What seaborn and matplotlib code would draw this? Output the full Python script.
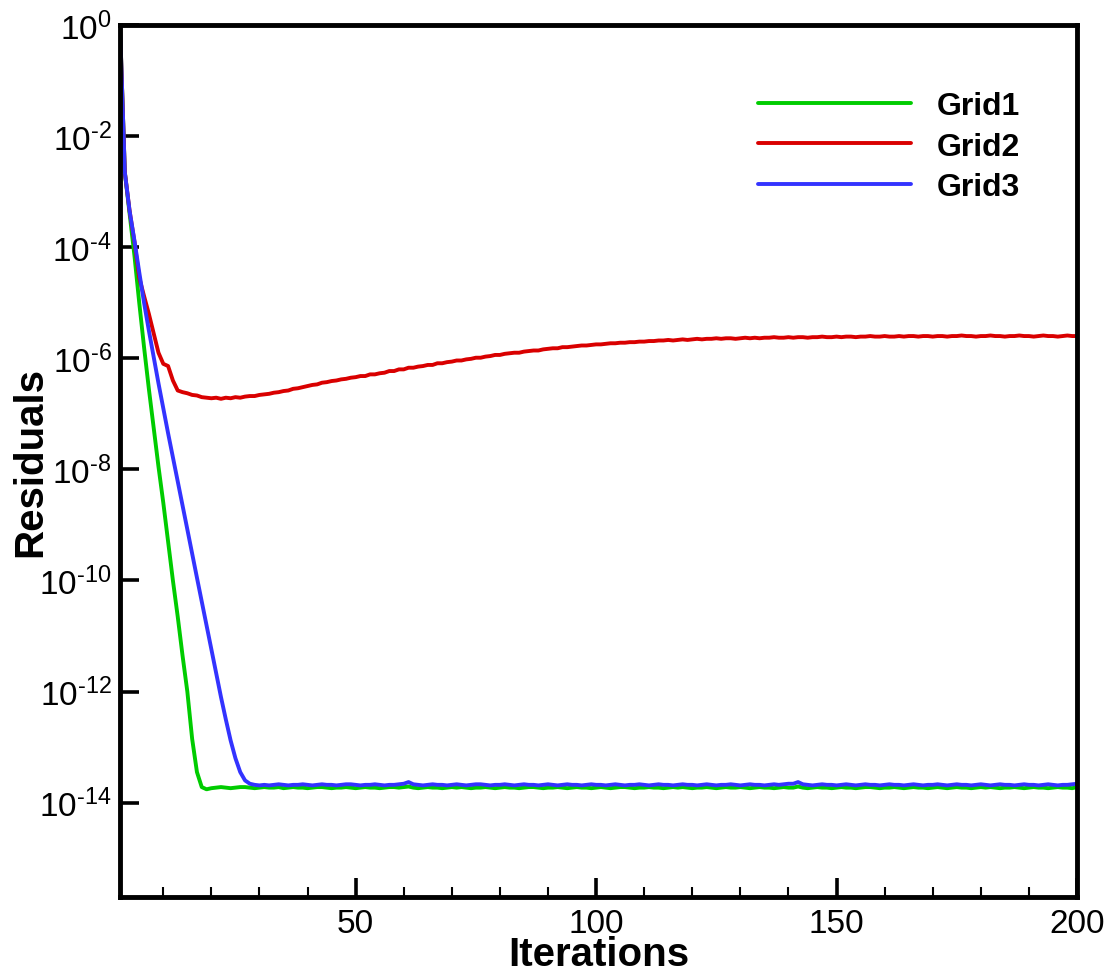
import numpy as np
import pandas as pd
import seaborn as sns
import matplotlib
matplotlib.use("Agg")
import matplotlib.pyplot as plt
from matplotlib.ticker import FixedLocator, MultipleLocator, FuncFormatter, NullLocator

# ---------------------------------------------------------------------------
# Convergence histories: log10 of the residual at each iteration (1..200)
# ---------------------------------------------------------------------------
iterations = list(range(1, 201))

grid1_log10 = [
    0.00, -2.65, -3.40, -4.15, -5.00, -5.80, -6.55, -7.25, -7.95, -8.60,
    -9.30, -10.00, -10.65, -11.35, -12.00, -12.85, -13.45, -13.72, -13.76, -13.74,
    -13.73, -13.72, -13.73, -13.74, -13.73, -13.72, -13.72, -13.73, -13.74, -13.73,
    -13.72, -13.73, -13.73, -13.72, -13.74, -13.73, -13.72, -13.73, -13.73, -13.74,
    -13.73, -13.72, -13.72, -13.73, -13.74, -13.73, -13.73, -13.72, -13.73, -13.74,
    -13.73, -13.72, -13.73, -13.73, -13.74, -13.73, -13.72, -13.72, -13.73, -13.72,
    -13.71, -13.73, -13.74, -13.73, -13.72, -13.73, -13.73, -13.74, -13.73, -13.72,
    -13.73, -13.72, -13.73, -13.74, -13.73, -13.73, -13.72, -13.73, -13.74, -13.73,
    -13.72, -13.73, -13.73, -13.74, -13.73, -13.72, -13.72, -13.73, -13.74, -13.73,
    -13.73, -13.72, -13.73, -13.74, -13.73, -13.72, -13.73, -13.73, -13.74, -13.73,
    -13.72, -13.73, -13.74, -13.73, -13.72, -13.72, -13.73, -13.74, -13.73, -13.73,
    -13.72, -13.73, -13.73, -13.74, -13.73, -13.72, -13.73, -13.72, -13.73, -13.74,
    -13.73, -13.73, -13.72, -13.73, -13.74, -13.73, -13.72, -13.73, -13.73, -13.72,
    -13.73, -13.74, -13.73, -13.72, -13.73, -13.73, -13.74, -13.73, -13.72, -13.73,
    -13.73, -13.71, -13.73, -13.74, -13.73, -13.72, -13.73, -13.73, -13.74, -13.73,
    -13.72, -13.73, -13.73, -13.74, -13.73, -13.72, -13.72, -13.73, -13.74, -13.73,
    -13.73, -13.72, -13.73, -13.74, -13.73, -13.72, -13.73, -13.73, -13.74, -13.73,
    -13.72, -13.73, -13.74, -13.73, -13.72, -13.73, -13.73, -13.74, -13.73, -13.72,
    -13.73, -13.72, -13.73, -13.74, -13.73, -13.73, -13.72, -13.73, -13.74, -13.73,
    -13.72, -13.73, -13.73, -13.74, -13.73, -13.72, -13.73, -13.73, -13.74, -13.72,
]

grid2_log10 = [
    0.00, -2.65, -3.35, -3.90, -4.55, -4.88, -5.20, -5.55, -5.90, -6.10,
    -6.14, -6.40, -6.58, -6.61, -6.63, -6.66, -6.67, -6.70, -6.71, -6.72,
    -6.71, -6.73, -6.71, -6.72, -6.70, -6.71, -6.69, -6.68, -6.68, -6.66,
    -6.65, -6.64, -6.62, -6.61, -6.59, -6.58, -6.55, -6.54, -6.52, -6.50,
    -6.48, -6.47, -6.44, -6.43, -6.41, -6.40, -6.38, -6.37, -6.35, -6.34,
    -6.32, -6.32, -6.29, -6.29, -6.27, -6.26, -6.23, -6.23, -6.20, -6.20,
    -6.17, -6.17, -6.15, -6.14, -6.12, -6.12, -6.09, -6.09, -6.07, -6.06,
    -6.04, -6.04, -6.02, -6.01, -5.99, -5.99, -5.97, -5.96, -5.94, -5.94,
    -5.92, -5.91, -5.90, -5.90, -5.88, -5.87, -5.86, -5.86, -5.84, -5.83,
    -5.82, -5.82, -5.80, -5.80, -5.79, -5.78, -5.77, -5.77, -5.76, -5.75,
    -5.75, -5.74, -5.73, -5.73, -5.72, -5.72, -5.71, -5.71, -5.70, -5.70,
    -5.69, -5.69, -5.68, -5.68, -5.67, -5.68, -5.67, -5.66, -5.67, -5.66,
    -5.65, -5.66, -5.65, -5.65, -5.64, -5.65, -5.64, -5.64, -5.65, -5.64,
    -5.63, -5.64, -5.63, -5.64, -5.63, -5.63, -5.62, -5.63, -5.63, -5.62,
    -5.63, -5.62, -5.62, -5.63, -5.62, -5.62, -5.61, -5.62, -5.62, -5.61,
    -5.62, -5.61, -5.61, -5.62, -5.61, -5.61, -5.60, -5.61, -5.61, -5.60,
    -5.61, -5.61, -5.60, -5.61, -5.60, -5.60, -5.61, -5.60, -5.60, -5.61,
    -5.60, -5.60, -5.61, -5.60, -5.60, -5.59, -5.60, -5.60, -5.61, -5.60,
    -5.60, -5.59, -5.60, -5.60, -5.61, -5.60, -5.60, -5.59, -5.60, -5.60,
    -5.61, -5.60, -5.59, -5.60, -5.60, -5.61, -5.60, -5.59, -5.60, -5.60,
]

grid3_log10 = [
    0.00, -2.65, -3.35, -3.88, -4.45, -5.00, -5.50, -5.98, -6.45, -6.90,
    -7.35, -7.78, -8.22, -8.65, -9.08, -9.52, -9.95, -10.38, -10.82, -11.25,
    -11.68, -12.10, -12.50, -12.88, -13.20, -13.45, -13.60, -13.66, -13.68, -13.69,
    -13.68, -13.69, -13.68, -13.67, -13.68, -13.69, -13.68, -13.68, -13.67, -13.68,
    -13.69, -13.68, -13.67, -13.68, -13.68, -13.69, -13.68, -13.67, -13.67, -13.68,
    -13.69, -13.68, -13.68, -13.67, -13.68, -13.69, -13.68, -13.68, -13.67, -13.66,
    -13.63, -13.67, -13.68, -13.69, -13.68, -13.67, -13.68, -13.68, -13.69, -13.68,
    -13.67, -13.68, -13.69, -13.68, -13.67, -13.67, -13.68, -13.69, -13.68, -13.68,
    -13.67, -13.68, -13.69, -13.68, -13.67, -13.68, -13.68, -13.69, -13.68, -13.67,
    -13.68, -13.69, -13.68, -13.67, -13.68, -13.68, -13.69, -13.68, -13.67, -13.68,
    -13.68, -13.69, -13.68, -13.67, -13.68, -13.69, -13.68, -13.68, -13.67, -13.68,
    -13.69, -13.68, -13.67, -13.68, -13.68, -13.69, -13.68, -13.67, -13.68, -13.68,
    -13.69, -13.68, -13.67, -13.68, -13.69, -13.68, -13.68, -13.67, -13.68, -13.69,
    -13.68, -13.67, -13.68, -13.68, -13.69, -13.68, -13.67, -13.68, -13.67, -13.66,
    -13.66, -13.63, -13.67, -13.68, -13.69, -13.68, -13.67, -13.68, -13.68, -13.69,
    -13.68, -13.67, -13.68, -13.69, -13.68, -13.67, -13.68, -13.68, -13.69, -13.68,
    -13.67, -13.68, -13.68, -13.69, -13.68, -13.67, -13.68, -13.69, -13.68, -13.68,
    -13.67, -13.68, -13.69, -13.68, -13.67, -13.68, -13.68, -13.69, -13.68, -13.67,
    -13.68, -13.69, -13.68, -13.67, -13.68, -13.68, -13.69, -13.68, -13.67, -13.68,
    -13.68, -13.69, -13.68, -13.67, -13.68, -13.69, -13.68, -13.68, -13.67, -13.66,
]

series_names = ["Grid1", "Grid2", "Grid3"]
series_colors = {"Grid1": "#00CC00", "Grid2": "#D90000", "Grid3": "#3333FF"}
x_major_ticks = [50, 100, 150, 200]
y_tick_exponents = [0, -2, -4, -6, -8, -10, -12, -14]

# ---------------------------------------------------------------------------
# Tidy frame for seaborn
# ---------------------------------------------------------------------------
frames = []
for name, values in zip(series_names, [grid1_log10, grid2_log10, grid3_log10]):
    frames.append(pd.DataFrame({
        "Iteration": iterations,
        "Residual": np.power(10.0, np.asarray(values)),
        "Grid": name,
    }))
df = pd.concat(frames, ignore_index=True)

# ---------------------------------------------------------------------------
# Style
# ---------------------------------------------------------------------------
sns.set_style("white")
plt.rcParams["font.family"] = ["Liberation Sans", "DejaVu Sans"]
plt.rcParams["mathtext.fontset"] = "custom"
plt.rcParams["mathtext.rm"] = "Liberation Sans"
plt.rcParams["mathtext.it"] = "Liberation Sans:italic"
plt.rcParams["mathtext.bf"] = "Liberation Sans:bold"
plt.rcParams["text.color"] = "black"
plt.rcParams["axes.labelcolor"] = "black"
plt.rcParams["xtick.color"] = "black"
plt.rcParams["ytick.color"] = "black"

fig = plt.figure(figsize=(11.10, 9.78), dpi=100)
ax = fig.add_axes([120 / 1110, 1 - 898 / 978, (1077 - 120) / 1110, (898 - 26) / 978])
ax.set_yscale("log")

sns.lineplot(
    data=df, x="Iteration", y="Residual", hue="Grid",
    hue_order=series_names, palette=series_colors,
    estimator=None, linewidth=2.8, ax=ax,
)

ax.set_xlim(1, 200)
ax.set_ylim(2e-16, 1.0)

# x ticks: labelled every 50, minor every 10
ax.xaxis.set_major_locator(FixedLocator(x_major_ticks))
ax.xaxis.set_minor_locator(MultipleLocator(10))

# y ticks: every second decade, no minor ticks
ax.yaxis.set_major_locator(FixedLocator([10.0 ** e for e in y_tick_exponents]))
ax.yaxis.set_minor_locator(NullLocator())


def decade_label(value, pos):
    exp = int(round(np.log10(value)))
    if exp < 0:
        return r"$\mathdefault{10^{\text{-}%d}}$" % (-exp)
    return r"$\mathdefault{10^{%d}}$" % exp


ax.yaxis.set_major_formatter(FuncFormatter(decade_label))

ax.tick_params(axis="both", which="major", direction="in", length=14,
               width=2.6, labelsize=24, color="black", labelcolor="black",
               bottom=True, left=True, top=False, right=False)
ax.tick_params(axis="x", which="major", pad=8)
ax.tick_params(axis="y", which="major", pad=6)
ax.tick_params(axis="x", which="minor", direction="in", length=7,
               width=1.5, bottom=True, top=False)

for side in ["left", "right", "top", "bottom"]:
    ax.spines[side].set_visible(True)
    ax.spines[side].set_linewidth(3.5)
    ax.spines[side].set_color("black")

ax.set_xlabel("Iterations", fontsize=29, fontweight="bold", color="black")
ax.set_ylabel("Residuals", fontsize=29, fontweight="bold", color="black")
ax.xaxis.set_label_coords(0.5, -0.044)
ax.yaxis.set_label_coords(-0.074, 0.5)

handles, labels = ax.get_legend_handles_labels()
for h in handles:
    h.set_linewidth(2.8)
ax.legend(
    handles, labels,
    loc="upper left", bbox_to_anchor=(758 / 1110, 1 - 92 / 978),
    bbox_transform=fig.transFigure,
    frameon=False, borderpad=0.0, borderaxespad=0.0,
    handlelength=4.8, handletextpad=0.8, labelspacing=0.33,
    prop={"family": "Liberation Sans", "weight": "bold", "size": 23},
)

fig.savefig("out.png", dpi=100)
